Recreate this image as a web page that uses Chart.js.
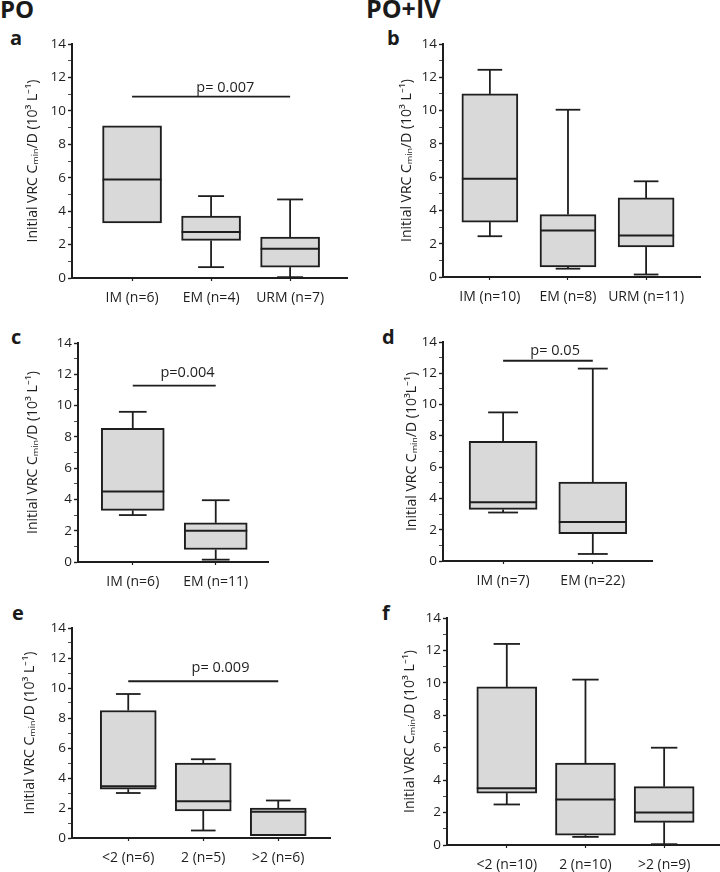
<!DOCTYPE html>
<html>
<head>
<meta charset="utf-8">
<script src="https://cdn.jsdelivr.net/npm/chart.js@4.4.1/dist/chart.umd.min.js"></script>
<style>
  body { margin: 0; background: #fff; width: 720px; height: 872px; position: relative; overflow: hidden;
         font-family: "Open Sans", sans-serif; color: #1a1a1a; }
  .panel { position: absolute; width: 360px; }
  .lbl { position: absolute; font-weight: bold; line-height: 1; white-space: nowrap; }
</style>
</head>
<body>
<div class="lbl" style="left:0px;top:-3px;font-size:24px">PO</div>
<div class="lbl" style="left:366px;top:-4px;font-size:25px">PO+IV</div>
<div class="lbl" style="left:10px;top:28px;font-size:20px">a</div>
<div class="lbl" style="left:387px;top:28px;font-size:20px">b</div>
<div class="lbl" style="left:11px;top:327px;font-size:20px">c</div>
<div class="lbl" style="left:382px;top:327px;font-size:20px">d</div>
<div class="lbl" style="left:12px;top:603px;font-size:20px">e</div>
<div class="lbl" style="left:382px;top:603px;font-size:20px">f</div>

<div class="panel" style="left:0;top:32px;height:274px"><canvas id="chartA"></canvas></div>
<div class="panel" style="left:360px;top:32px;height:273px"><canvas id="chartB"></canvas></div>
<div class="panel" style="left:0;top:331px;height:259px"><canvas id="chartC"></canvas></div>
<div class="panel" style="left:360px;top:330px;height:259px"><canvas id="chartD"></canvas></div>
<div class="panel" style="left:0;top:616px;height:250px"><canvas id="chartE"></canvas></div>
<div class="panel" style="left:360px;top:606px;height:267px"><canvas id="chartF"></canvas></div>

<script>
// a: PO, phenotype
const catsA = ["IM (n=6)", "EM (n=4)", "URM (n=7)"];
const minA = [3.3, 0.65, 0.05];
const q1A  = [3.3, 2.25, 0.65];
const medA = [5.9, 2.75, 1.75];
const q3A  = [9.1, 3.7, 2.45];
const maxA = [9.1, 4.9, 4.7];

// b: PO+IV, phenotype
const catsB = ["IM (n=10)", "EM (n=8)", "URM (n=11)"];
const minB = [2.45, 0.5, 0.15];
const q1B  = [3.3, 0.6, 1.8];
const medB = [5.9, 2.8, 2.5];
const q3B  = [11.0, 3.75, 4.75];
const maxB = [12.45, 10.05, 5.75];

// c: PO, IM vs EM
const catsC = ["IM (n=6)", "EM (n=11)"];
const minC = [3.0, 0.15];
const q1C  = [3.3, 0.8];
const medC = [4.5, 2.0];
const q3C  = [8.55, 2.5];
const maxC = [9.6, 3.95];

// d: PO+IV, IM vs EM
const catsD = ["IM (n=7)", "EM (n=22)"];
const minD = [3.1, 0.45];
const q1D  = [3.3, 1.75];
const medD = [3.75, 2.5];
const q3D  = [7.65, 5.05];
const maxD = [9.5, 12.3];

// e: PO, by copy number
const catsE = ["<2 (n=6)", "2 (n=5)", ">2 (n=6)"];
const minE = [3.0, 0.5, 0.15];
const q1E  = [3.25, 1.8, 0.15];
const medE = [3.45, 2.45, 1.75];
const q3E  = [8.5, 5.0, 2.0];
const maxE = [9.6, 5.25, 2.5];

// f: PO+IV, by copy number
const catsF = ["<2 (n=10)", "2 (n=10)", ">2 (n=9)"];
const minF = [2.5, 0.5, 0.05];
const q1F  = [3.2, 0.6, 1.4];
const medF = [3.5, 2.8, 2.0];
const q3F  = [9.75, 5.05, 3.6];
const maxF = [12.4, 10.2, 6.0];

// significance brackets: [from category, to category], line level, text x / baseline
const pTexts = { A: "p= 0.007", C: "p=0.004", D: "p= 0.05", E: "p= 0.009" };
const pSpans = { A: [0, 2], C: [0, 1], D: [0, 1], E: [0, 2] };
const pLevels = { A: 10.85, C: 11.28, D: 12.8, E: 10.45 };
const pTextAt = { A: [1.18, 11.14], C: [0.66, 11.82], D: [0.58, 13.14], E: [1.23, 11.05] };

const yTicks = [0, 2, 4, 6, 8, 10, 12, 14];

const ink = '#1e1e1e';
const fontFam = '"Open Sans", sans-serif';

const boxPlot = {
  id: 'boxPlot',
  afterDatasetsDraw(chart, args, o) {
    const { ctx, scales: { x, y } } = chart;
    ctx.save();
    ctx.strokeStyle = ink;
    ctx.lineWidth = 1.8;
    const seg = (x1, y1, x2, y2) => {
      ctx.beginPath(); ctx.moveTo(x1, y1); ctx.lineTo(x2, y2); ctx.stroke();
    };
    o.med.forEach((m, i) => {
      const cx = x.getPixelForValue(i);
      const half = o.barW / 2;
      const cap = o.barW * 0.22;
      const pq1 = y.getPixelForValue(o.q1[i]);
      const pq3 = y.getPixelForValue(o.q3[i]);
      const pmin = y.getPixelForValue(o.min[i]);
      const pmax = y.getPixelForValue(o.max[i]);
      if (o.max[i] > o.q3[i]) { seg(cx, pq3, cx, pmax); seg(cx - cap, pmax, cx + cap, pmax); }
      if (o.min[i] < o.q1[i]) { seg(cx, pq1, cx, pmin); seg(cx - cap, pmin, cx + cap, pmin); }
      const pm = y.getPixelForValue(m);
      ctx.lineWidth = 2;
      seg(cx - half, pm, cx + half, pm);
      ctx.lineWidth = 1.8;
    });
    if (o.pText) {
      const yl = y.getPixelForValue(o.pLevel);
      seg(x.getPixelForValue(o.pSpan[0]), yl, x.getPixelForValue(o.pSpan[1]), yl);
      ctx.fillStyle = ink;
      ctx.font = '14.5px ' + fontFam;
      ctx.textAlign = 'center';
      ctx.textBaseline = 'alphabetic';
      ctx.fillText(o.pText, x.getPixelForValue(o.pTextAt[0]), y.getPixelForValue(o.pTextAt[1]));
    }
    ctx.restore();
  }
};

function makePanel(id, g) {
  const data = {
    datasets: [{
      data: g.cats.map((c, i) => ({ x: i, y: [g.q1[i], g.q3[i]] })),
      backgroundColor: '#d9d9d9',
      borderColor: ink,
      borderWidth: 2,
      borderSkipped: false,
      barThickness: g.barW
    }]
  };
  new Chart(document.getElementById(id), {
    type: 'bar',
    data: data,
    plugins: [boxPlot],
    options: {
      responsive: true,
      maintainAspectRatio: false,
      animation: false,
      layout: { padding: { left: g.padL, right: g.padR, top: 12, bottom: 0 } },
      plugins: {
        legend: { display: false },
        tooltip: { enabled: false },
        boxPlot: {
          q1: g.q1, q3: g.q3, med: g.med, min: g.min, max: g.max, barW: g.barW,
          pText: g.pText, pSpan: g.pSpan, pLevel: g.pLevel, pTextAt: g.pTextAt
        }
      },
      scales: {
        x: {
          type: 'linear',
          offset: false,
          min: g.xMin,
          max: g.xMax,
          afterBuildTicks: s => { s.ticks = g.cats.map((c, i) => ({ value: i })); },
          afterFit: s => { s.height = 28; },
          border: { color: ink, width: 2 },
          grid: { offset: false, drawOnChartArea: false, drawTicks: true, tickLength: 3, color: ink, tickWidth: 1.2 },
          ticks: {
            autoSkip: false, maxRotation: 0, padding: 9,
            color: ink, font: { family: fontFam, size: 14 },
            callback: v => g.cats[v]
          }
        },
        y: {
          min: 0,
          max: 14,
          afterBuildTicks: s => {
            const t = [];
            for (let v = 0; v <= 14; v++) t.push({ value: v });
            s.ticks = t;
          },
          afterFit: s => { s.width = g.yW; },
          border: { color: ink, width: 2 },
          grid: { drawOnChartArea: false, drawTicks: true, tickLength: 4, color: ink,
                  tickWidth: c => (c.tick && c.tick.value % 2 === 0) ? 1.4 : 0.8 },
          ticks: {
            autoSkip: false, padding: 2,
            color: ink, font: { family: fontFam, size: 13.5 },
            callback: v => yTicks.includes(v) ? String(v) : ''
          },
          title: {
            display: true,
            text: g.yTitle,
            color: ink,
            font: { family: fontFam, size: 14 },
            padding: { top: 0, bottom: 0 }
          }
        }
      }
    }
  });
}

const titleStd = "Initial VRC C\u2098\u1d62\u2099/D (10\u00b3 L\u207b\u00b9)";
const titleD = "Initial VRC C\u2098\u1d62\u2099/D (10\u00b3L\u207b\u00b9)";

makePanel('chartA', { cats: catsA, min: minA, q1: q1A, med: medA, q3: q3A, max: maxA,
  xMin: -0.76, xMax: 2.72, barW: 59, padL: 24.6, yW: 47.4, padR: 13, yTitle: titleStd,
  pText: pTexts.A, pSpan: pSpans.A, pLevel: pLevels.A, pTextAt: pTextAt.A });
makePanel('chartB', { cats: catsB, min: minB, q1: q1B, med: medB, q3: q3B, max: maxB,
  xMin: -0.60, xMax: 2.69, barW: 56, padL: 38.6, yW: 44.4, padR: 20, yTitle: titleStd });
makePanel('chartC', { cats: catsC, min: minC, q1: q1C, med: medC, q3: q3C, max: maxC,
  xMin: -0.66, xMax: 1.63, barW: 63, padL: 24.6, yW: 53.4, padR: 92, yTitle: titleStd,
  pText: pTexts.C, pSpan: pSpans.C, pLevel: pLevels.C, pTextAt: pTextAt.C });
makePanel('chartD', { cats: catsD, min: minD, q1: q1D, med: medD, q3: q3D, max: maxD,
  xMin: -0.67, xMax: 1.66, barW: 68, padL: 43.6, yW: 39.4, padR: 68, yTitle: titleD,
  pText: pTexts.D, pSpan: pSpans.D, pLevel: pLevels.D, pTextAt: pTextAt.D });
makePanel('chartE', { cats: catsE, min: minE, q1: q1E, med: medE, q3: q3E, max: maxE,
  xMin: -0.75, xMax: 2.69, barW: 56, padL: 21.6, yW: 50.4, padR: 30, yTitle: titleStd,
  pText: pTexts.E, pSpan: pSpans.E, pLevel: pLevels.E, pTextAt: pTextAt.E });
makePanel('chartF', { cats: catsF, min: minF, q1: q1F, med: medF, q3: q3F, max: maxF,
  xMin: -0.76, xMax: 2.71, barW: 60, padL: 41.6, yW: 45.4, padR: 0, yTitle: titleStd });
</script>
</body>
</html>
